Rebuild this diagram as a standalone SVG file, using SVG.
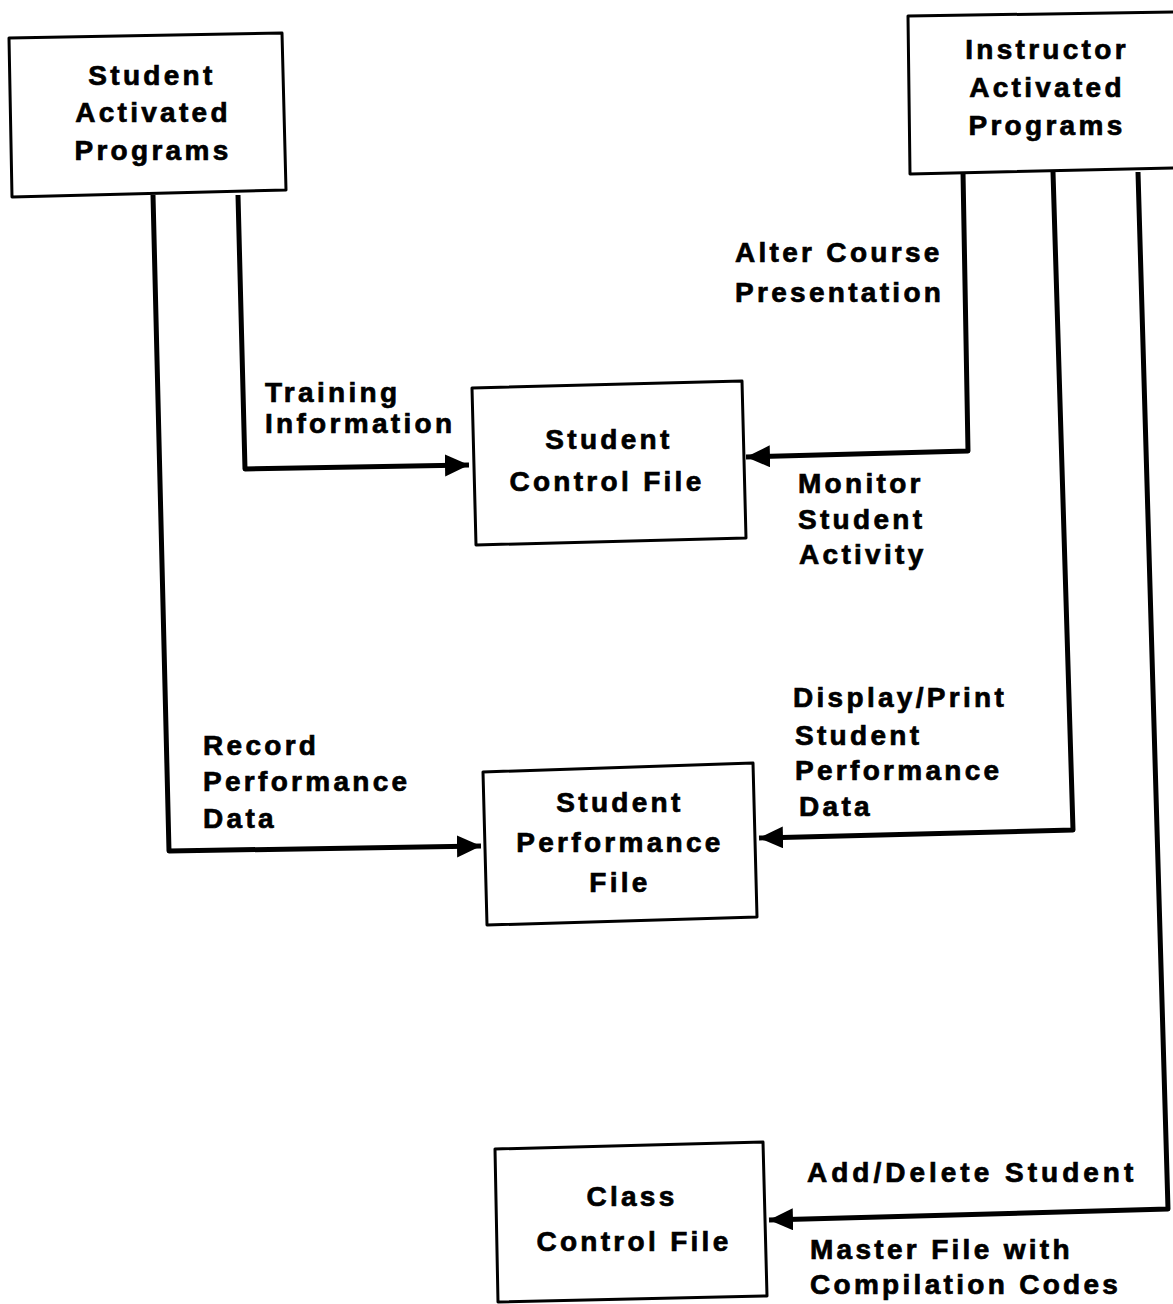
<svg xmlns="http://www.w3.org/2000/svg" width="1173" height="1304" viewBox="0 0 1173 1304">
<defs>
<style>
.box{fill:#fff;stroke:#000;stroke-width:3;stroke-linejoin:round}
.con{fill:none;stroke:#000;stroke-width:5;stroke-linejoin:round}
text{font-family:"Liberation Sans",Arial,Helvetica,sans-serif;font-weight:bold;font-size:28px;letter-spacing:3.3px;fill:#000;stroke:#000;stroke-width:0.7px}
.c{text-anchor:middle}
</style>
<marker id="ah" markerUnits="userSpaceOnUse" markerWidth="26" markerHeight="24" refX="24" refY="11" orient="auto">
<path d="M0,0 L24,11 L0,22 z" fill="#000"/>
</marker>
</defs>
<rect width="1173" height="1304" fill="#fff"/>
<g id="connectors">
<polyline class="con" points="238,195 245,469 469,465" marker-end="url(#ah)"/>
<polyline class="con" points="153,195 169,851 481,846" marker-end="url(#ah)"/>
<polyline class="con" points="963,172 968,451 746,457" marker-end="url(#ah)"/>
<polyline class="con" points="1053,172 1073,830 759,838" marker-end="url(#ah)"/>
<polyline class="con" points="1138,172 1168,1209 769,1220" marker-end="url(#ah)"/>
</g>
<g id="labels">
<text x="265" y="402">Training</text>
<text x="265" y="433">Information</text>
<text x="735" y="262">Alter Course</text>
<text x="735" y="302">Presentation</text>
<text x="798" y="493">Monitor</text>
<text x="798" y="529">Student</text>
<text x="799" y="564">Activity</text>
<text x="793" y="707">Display/Print</text>
<text x="795" y="745">Student</text>
<text x="795" y="780">Performance</text>
<text x="799" y="816">Data</text>
<text x="203" y="755">Record</text>
<text x="203" y="791">Performance</text>
<text x="203" y="828">Data</text>
<text x="807" y="1182" style="letter-spacing:4px">Add/Delete Student</text>
<text x="810" y="1259">Master File with</text>
<text x="810" y="1294">Compilation Codes</text>
</g>
<g id="student-activated-programs">
<polygon class="box" points="9,38 282,33 286,190 12,197"/>
<text class="c" x="152" y="85">Student</text>
<text class="c" x="153" y="122">Activated</text>
<text class="c" x="153" y="160">Programs</text>
</g>
<g id="instructor-activated-programs">
<polygon class="box" points="908,16 1175,12 1175,168 910,174"/>
<text class="c" x="1047" y="59">Instructor</text>
<text class="c" x="1047" y="97">Activated</text>
<text class="c" x="1047" y="135">Programs</text>
</g>
<g id="student-control-file">
<polygon class="box" points="472,388 742,381 746,538 476,545"/>
<text class="c" x="609" y="449">Student</text>
<text class="c" x="607" y="491">Control File</text>
</g>
<g id="student-performance-file">
<polygon class="box" points="483,772 753,763 757,917 487,925"/>
<text class="c" x="620" y="812">Student</text>
<text class="c" x="620" y="852">Performance</text>
<text class="c" x="620" y="892">File</text>
</g>
<g id="class-control-file">
<polygon class="box" points="495,1149 763,1142 767,1296 498,1302"/>
<text class="c" x="632" y="1206">Class</text>
<text class="c" x="634" y="1251">Control File</text>
</g>
</svg>
